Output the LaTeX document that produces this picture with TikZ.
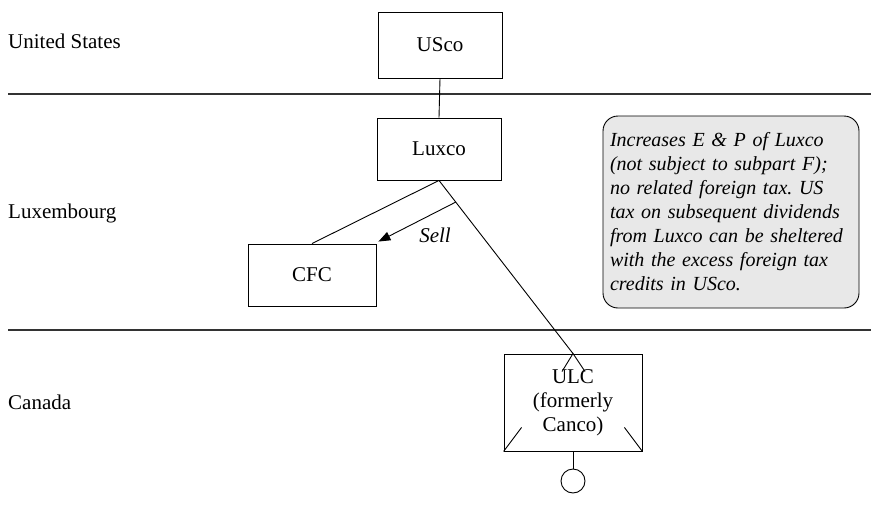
\documentclass[tikz,border=0pt]{standalone}
\usepackage{fontspec}
\setmainfont{Liberation Serif}
\usetikzlibrary{calc,arrows.meta}
\begin{document}
\frenchspacing
\begin{tikzpicture}[x=1pt,y=-1pt,
  font=\fontsize{21}{24}\selectfont,
  entity/.style={draw, line width=0.9pt, inner sep=0pt, align=center},
  link/.style={line width=0.9pt},
  divider/.style={line width=1.2pt, draw=black!80},
  country/.style={anchor=west, inner sep=0pt},
  note/.style={draw, line width=0.9pt, rounded corners=15pt, fill=black!9,
    minimum width=256pt, minimum height=192pt, inner xsep=7pt,
    text width=242pt, align=left, font=\fontsize{20}{24}\selectfont\itshape}]
\useasboundingbox (0,0) rectangle (871,507);

% jurisdiction bands
\coordinate (d1w) at (8,94);   \coordinate (d1e) at (871,94);
\coordinate (d2w) at (8,330);  \coordinate (d2e) at (871,330);
\draw[divider] (d1w) -- (d1e);
\draw[divider] (d2w) -- (d2e);
\node[country] (us) at (8,41) {United States};
\node[country] (lux) at (8,213) {Luxembourg};
\node[country] (can) at (8,402) {Canada};

% entities
\node[entity, minimum width=124pt, minimum height=66pt] (usco) at (440,45) {USco};
\node[entity, minimum width=124pt, minimum height=62pt] (luxco) at (439,149) {Luxco};
\node[entity, minimum width=128pt, minimum height=62pt] (cfc) at (312,275) {CFC};
\node[entity, minimum width=138pt, minimum height=97pt] (ulc) at (573,402.5)
  {ULC\\(formerly\\Canco)};
\node[circle, draw, line width=0.9pt, minimum size=24pt, inner sep=0pt] (owner) at (573,481) {};

% ownership lines
\draw[link] (usco.south) -- (luxco.north);
\draw[link] (luxco.south) -- (cfc.north);
\draw[link] (luxco.south) -- (ulc.north);
\draw[link] (ulc.south) -- (owner.north);

% hybrid marks inside the ULC box
\draw[link] ($(ulc.north)+(-11,18)$) -- (ulc.north) -- ($(ulc.north)+(12,18)$);
\draw[link] (ulc.south west) -- ++(18,-24);
\draw[link] (ulc.south east) -- ++(-18,-24);

% sale of the CFC
\coordinate (sellfrom) at ($(luxco.south)!0.125!(ulc.north)$);
\coordinate (sellto) at ($(cfc.north east)+(2,-2)$);
\draw[link, -{Triangle[length=12pt,width=9pt]}] (sellfrom) -- (sellto);
\node[font=\fontsize{21}{24}\selectfont\itshape] (sell) at (435,235) {Sell};

% explanatory note
\node[note] (expl) at (731,212) {Increases E \& P of Luxco\\(not subject to subpart F);\\no related foreign tax. US\\tax on subsequent dividends\\from Luxco can be sheltered\\with the excess foreign tax\\credits in USco.};
\end{tikzpicture}
\end{document}
